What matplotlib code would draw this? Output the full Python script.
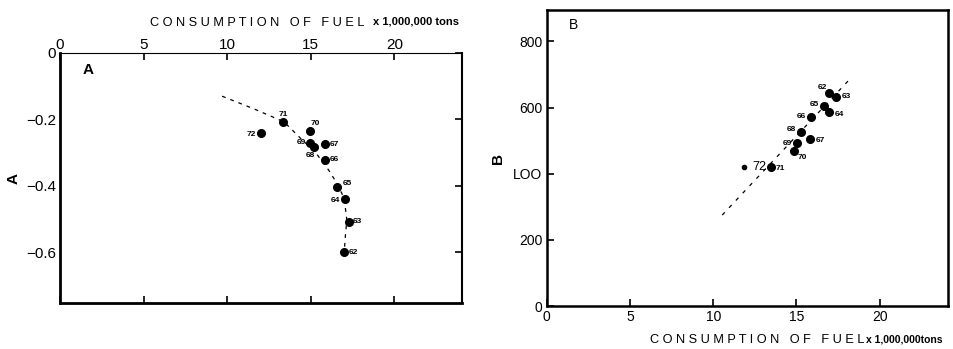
import matplotlib
matplotlib.use("Agg")
import matplotlib.pyplot as plt

# years (labels next to the points)
years = ["62", "63", "64", "65", "66", "67", "68", "69", "70", "71", "72"]

# panel A: fuel consumption (x 1,000,000 tons) vs A
fuel_a = [16.97, 17.27, 17.03, 16.60, 15.83, 15.87, 15.21, 14.97, 14.93, 13.37, 12.04]
a_vals = [-0.600, -0.507, -0.438, -0.402, -0.321, -0.274, -0.282, -0.272, -0.234, -0.209, -0.241]
curve_a_x = [9.7, 11.6, 13.4, 14.4, 15.3, 16.07, 16.57, 17.0, 17.16, 17.07, 17.0]
curve_a_y = [-0.130, -0.168, -0.207, -0.257, -0.300, -0.352, -0.392, -0.437, -0.502, -0.552, -0.602]

# panel B: fuel consumption vs B
fuel_b = [16.96, 17.36, 16.96, 16.66, 15.90, 15.84, 15.30, 15.06, 14.86, 13.50, 11.84]
b_vals = [643, 632, 587, 605, 570, 505, 525, 492, 469, 419, 419]
line_b_x = [10.54, 18.26]
line_b_y = [275, 689]

x_ticks = [0, 5, 10, 15, 20]
a_ticks = [0, -0.2, -0.4, -0.6]
a_ticklabels = ["0", "\u22120.2", "\u22120.4", "\u22120.6"]
b_ticks = [0, 200, 400, 600, 800]
b_ticklabels = ["0", "200", "LOO", "600", "800"]

# label offsets in points (dx, dy, ha)
offs_a = [(4, 0, "left"), (3, 0, "left"), (-3, -1, "right"), (4, 2, "left"),
          (4, 0, "left"), (3, 0, "left"), (-3, -6, "center"), (-3, 1, "right"),
          (4, 5, "center"), (0, 6, "center"), (-4, -1, "right")]
offs_b = [(-5, 4, "center"), (4, 0, "left"), (4, -2, "left"), (-4, 1, "right"),
          (-4, 1, "right"), (4, -1, "left"), (-4, 2, "right"), (-4, 0, "right"),
          (6, -5, "center"), (3, -1, "left"), (6, 0, "left")]

plt.rcParams["font.family"] = ["Liberation Sans", "DejaVu Sans"]

W, H = 954, 349
fig = plt.figure(figsize=(W / 100, H / 100), dpi=100)

def px(x0, y0, x1, y1):
    return [x0 / W, 1 - y1 / H, (x1 - x0) / W, (y1 - y0) / H]

title = "C O N S U M P T I O N   O F   F U E L"

# ---------- panel A ----------
ax1 = fig.add_axes(px(60, 53, 462, 303))
ax1.plot(curve_a_x, curve_a_y, color="black", lw=0.9, ls=(0, (3, 4)))
ax1.plot(fuel_a, a_vals, "o", color="black", ms=5.5)
for x, y, t, (dx, dy, ha) in zip(fuel_a, a_vals, years, offs_a):
    ax1.annotate(t, (x, y), xytext=(dx, dy), textcoords="offset points",
                 ha=ha, va="center", fontsize=6, fontweight="bold")
ax1.set_xlim(0, 24.05)
ax1.set_ylim(-0.752, 0)
ax1.set_xticks(x_ticks)
ax1.set_xticklabels([str(t) for t in x_ticks], fontsize=11)
ax1.set_yticks(a_ticks)
ax1.set_yticklabels(a_ticklabels, fontsize=11)
ax1.tick_params(axis="x", direction="in", top=True, bottom=True,
                labeltop=True, labelbottom=False, length=5, width=1.2, pad=1)
ax1.tick_params(axis="y", direction="in", left=False, right=True,
                labelleft=True, length=5, width=1.2, pad=3)
ax1.spines["left"].set_linewidth(2)
ax1.spines["bottom"].set_linewidth(2)
ax1.spines["right"].set_linewidth(1.5)
ax1.spines["top"].set_linewidth(0.8)
ax1.text(1.7, -0.05, "A", fontsize=11, fontweight="bold", ha="center", va="center")
ax1.set_ylabel("A", fontsize=11, fontweight="bold", labelpad=4)

fig.text(150 / W, 1 - 23 / H, title, ha="left", va="center", fontsize=9.2)
fig.text(373 / W, 1 - 22 / H, "x 1,000,000 tons", ha="left", va="center",
         fontsize=8, fontweight="bold")

# ---------- panel B ----------
ax2 = fig.add_axes(px(546.7, 10, 948, 306))
ax2.plot(line_b_x, line_b_y, color="black", lw=0.9, ls=(0, (3, 5)))
ax2.plot(fuel_b[:-1], b_vals[:-1], "o", color="black", ms=5.5)
ax2.plot(fuel_b[-1:], b_vals[-1:], "o", color="black", ms=3)
for x, y, t, (dx, dy, ha) in zip(fuel_b, b_vals, years, offs_b):
    if t == "72":
        ax2.annotate(t, (x, y), xytext=(dx, dy), textcoords="offset points",
                     ha=ha, va="center", fontsize=9)
    else:
        ax2.annotate(t, (x, y), xytext=(dx, dy), textcoords="offset points",
                     ha=ha, va="center", fontsize=6, fontweight="bold")
ax2.set_xlim(0, 24.1)
ax2.set_ylim(0, 895)
ax2.set_xticks(x_ticks)
ax2.set_xticklabels([str(t) for t in x_ticks], fontsize=10)
ax2.set_yticks(b_ticks)
ax2.set_yticklabels(b_ticklabels, fontsize=10)
ax2.tick_params(axis="both", direction="in", length=5, width=1.2, pad=3)
for s in ax2.spines.values():
    s.set_linewidth(1.8)
ax2.text(1.6, 850, "B", fontsize=10, ha="center", va="center")
ax2.set_ylabel("B", fontsize=11, fontweight="bold", labelpad=6)

fig.text(650 / W, 1 - 340 / H, title, ha="left", va="center", fontsize=9.2)
fig.text(866 / W, 1 - 340 / H, "x 1,000,000tons", ha="left", va="center",
         fontsize=7.5, fontweight="bold")

fig.savefig("out.png", dpi=100)
